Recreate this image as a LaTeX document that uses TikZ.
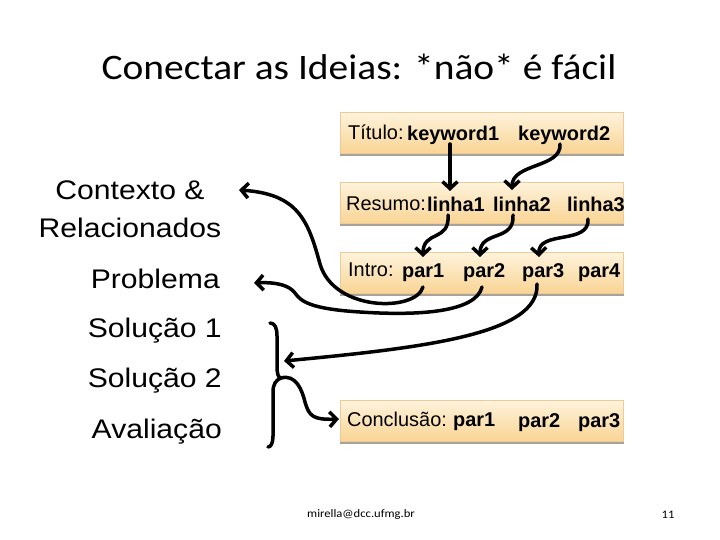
\documentclass[tikz,border=0pt]{standalone}
\usepackage{fontspec}
\setmainfont{Liberation Sans}
\newfontfamily\titlefont[FakeStretch=1.1]{Carlito}
\newfontfamily\labelfont[FakeStretch=1.12]{Liberation Sans}
\usetikzlibrary{arrows.meta}
\definecolor{boxtop}{HTML}{FEF3DC}
\definecolor{boxbot}{HTML}{F9D494}
\definecolor{boxedge}{HTML}{EBCB98}
\definecolor{boxshadow}{HTML}{A8A29A}
\tikzset{
  box/.style={draw=boxedge, line width=0.6bp, top color=boxtop, bottom color=boxbot,
    minimum width=283bp, minimum height=41bp, inner sep=0, anchor=north west},
  lab/.style={font=\labelfont\fontsize{27}{31}\selectfont, inner sep=0},
  wd/.style={font=\fontsize{20}{24}\selectfont, inner sep=0, anchor=base west},
  kw/.style={font=\bfseries\fontsize{20}{24}\selectfont, inner sep=0, anchor=base west},
  arr/.style={line width=3.5bp, line cap=round, -{Straight Barb[length=7bp,width=15bp]}},
  brace/.style={line width=3.5bp, line cap=round, line join=round},
  shadowline/.style={draw=boxshadow, line width=2bp}
}
\begin{document}
\begin{tikzpicture}[x=1bp,y=-1bp]
\useasboundingbox (0,0) rectangle (720,540);

% title
\node[font=\titlefont\fontsize{36}{40}\selectfont, inner sep=0] (title) at (359,67) {Conectar as Ideias: *não* é fácil};

% boxes
\node[box] (btit) at (340,112) {};
\node[box] (bres) at (340,182) {};
\node[box] (bint) at (340,252) {};
\node[box] (bcon) at (340,400) {};
\foreach \b in {btit,bres,bint,bcon}
  \draw[shadowline] ([yshift=-1bp]\b.south west) -- ([yshift=-1bp]\b.south east);

% box texts
\node[wd] (ttit) at (348,140) {Título:};
\node[kw] (kw1) at (407,141) {keyword1};
\node[kw] (kw2) at (518,141) {keyword2};

\node[wd] (tres) at (346,211) {Resumo:};
\node[kw] (l1) at (427,212) {linha1};
\node[kw] (l2) at (493,212) {linha2};
\node[kw] (l3) at (567,212) {linha3};

\node[wd] (tint) at (348,277) {Intro:};
\node[kw] (p1) at (402,278) {par1};
\node[kw] (p2) at (463,278) {par2};
\node[kw] (p3) at (522,278) {par3};
\node[kw] (p4) at (578,278) {par4};

\node[wd] (tcon) at (347,426) {Conclusão:};
\node[kw] (c1) at (453,426) {par1};
\node[kw] (c2) at (518,427) {par2};
\node[kw] (c3) at (578,427) {par3};

% left labels
\node[lab, anchor=base] (ctx) at (130,200) {Contexto \&};
\node[lab, anchor=base] (rel) at (130,238) {Relacionados};
\node[lab, anchor=base east] (prob) at (220,288) {Problema};
\node[lab, anchor=base east] (sol1) at (222,337) {Solução 1};
\node[lab, anchor=base east] (sol2) at (222,387) {Solução 2};
\node[lab, anchor=base east] (aval) at (222,438) {Avaliação};

% footer
\node[font=\titlefont\fontsize{11.5}{13}\selectfont, inner sep=0, anchor=west] (mail) at (307,515) {mirella@dcc.ufmg.br};
\node[font=\titlefont\fontsize{11.5}{13}\selectfont, inner sep=0] (pg) at (668,515) {11};

% connector end points
\coordinate (s1) at (450,144);  \coordinate (e1) at (450,191);
\coordinate (s2) at (560,144);  \coordinate (e2) at (512,190);
\coordinate (s3) at (448,215);  \coordinate (e3) at (423,257);
\coordinate (s4) at (513,215);  \coordinate (e4) at (480,257);
\coordinate (s5) at (588,219);  \coordinate (e5) at (539,257);
\coordinate (s6) at (423,287);  \coordinate (e6) at (239,190);
\coordinate (s7) at (482,287);  \coordinate (e7) at (254,283);
\coordinate (s8) at (537,284);  \coordinate (e8) at (284,361);
\coordinate (bt) at (270,323);  \coordinate (bp) at (281,378);
\coordinate (bb) at (268,447);  \coordinate (e9) at (339,419);

% arrows
\draw[arr] (s1) -- (e1);
\draw[arr] (s2) .. controls (562,168) and (512,163) .. (e2);
\draw[arr] (s3) .. controls (450,242) and (423,230) .. (e3);
\draw[arr] (s4) .. controls (515,242) and (480,230) .. (e4);
\draw[arr] (s5) .. controls (590,245) and (538,230) .. (e5);
\draw[arr] (s6) .. controls (416,312) and (334,312) .. (320,264)
           .. controls (308,220) and (298,194) .. (e6);
\draw[arr] (s7) .. controls (476,312) and (420,316) .. (360,312)
           .. controls (312,309) and (301,302) .. (295,293)
           .. controls (289,285) and (276,282) .. (e7);
\draw[arr] (s8) .. controls (540,335) and (420,348) .. (e8);

% brace
\draw[brace] (bt) .. controls (275,323) and (277,328) .. (277,336)
  -- (277,366) .. controls (277,373) and (278,378) .. (bp)
  .. controls (276,380) and (273,384) .. (273,392)
  -- (273,436) .. controls (273,443) and (271,447) .. (bb);
\draw[arr] (bp) .. controls (296,374) and (302,390) .. (305,402)
  .. controls (309,416) and (313,420) .. (e9);
\end{tikzpicture}
\end{document}
